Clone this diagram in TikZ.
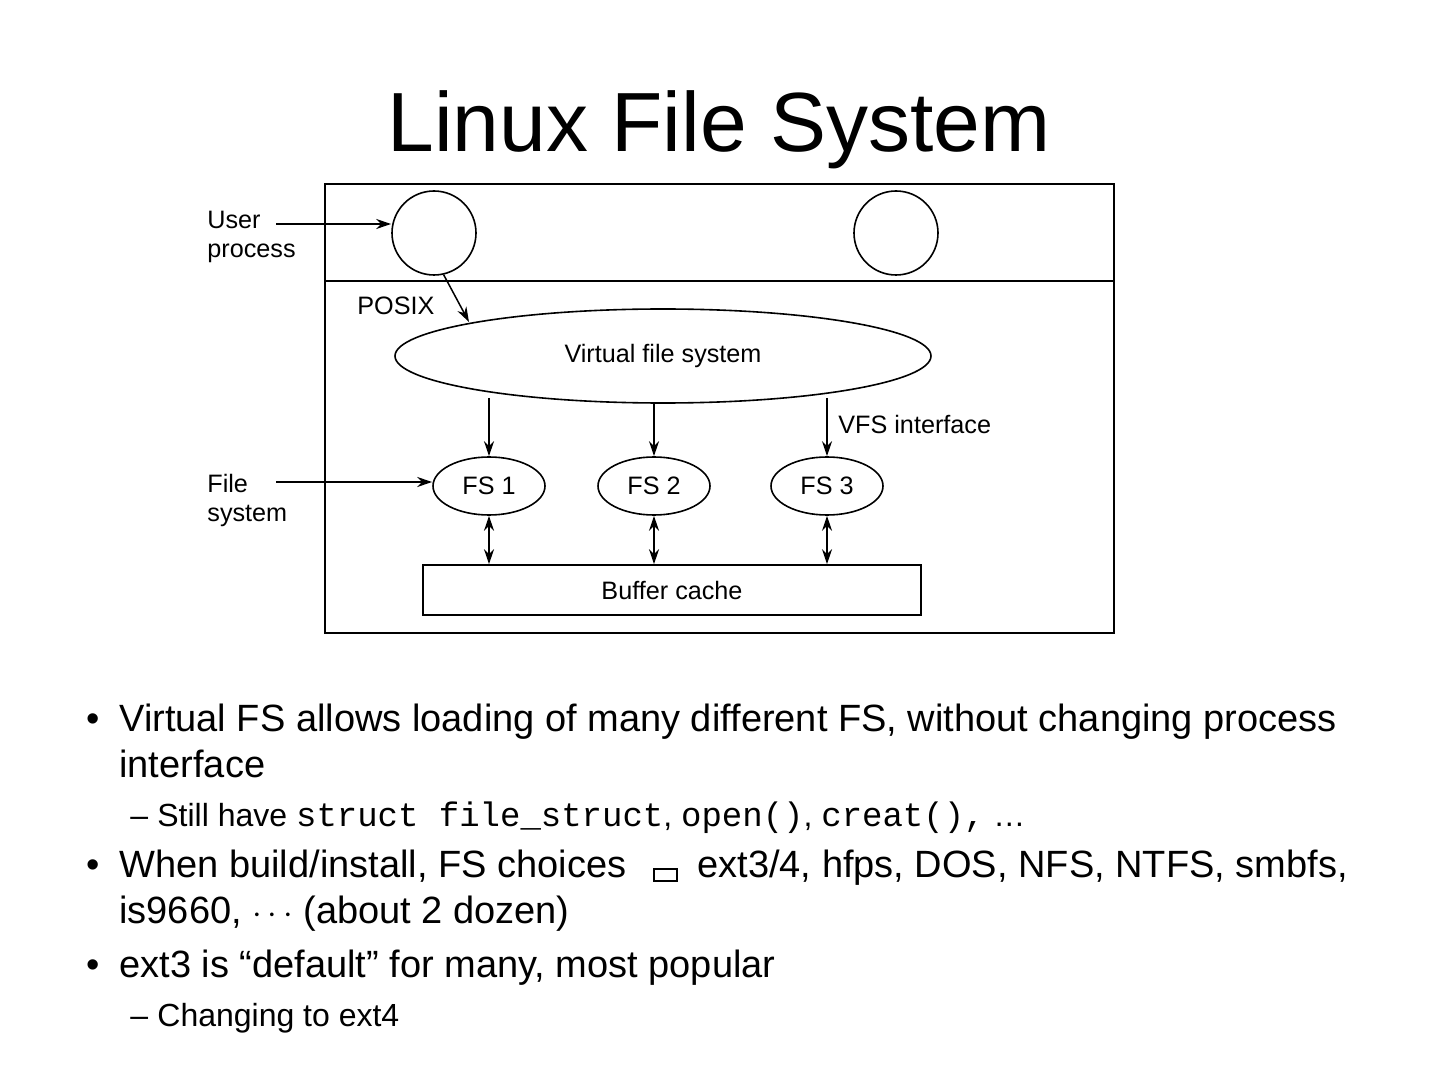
\documentclass[tikz,border=0pt]{standalone}
\usepackage{fontspec}
\setmainfont{Liberation Sans}
\setmonofont{Liberation Mono}
\usetikzlibrary{arrows.meta,shapes.geometric}
\begin{document}
\begin{tikzpicture}[x=0.5pt,y=-0.5pt,
  lbl/.style={font=\fontsize{12.6}{14}\selectfont, inner sep=0pt},
  arr/.style={line width=0.75pt,-{Stealth[length=7.5pt,width=5pt]}},
  darr/.style={line width=0.75pt,{Stealth[length=7.5pt,width=5pt]}-{Stealth[length=7.5pt,width=5pt]}},
  proc/.style={circle,draw,line width=0.8pt,minimum size=42pt,inner sep=0pt},
  fs/.style={ellipse,draw,line width=0.8pt,minimum width=56pt,minimum height=29pt,inner sep=0pt,font=\fontsize{12.6}{14}\selectfont},
  btxt/.style={anchor=base west,inner sep=0pt,font=\fontsize{19}{22}\selectfont},
  stxt/.style={anchor=base west,inner sep=0pt,font=\fontsize{16}{19}\selectfont}
]
\useasboundingbox (0,0) rectangle (1440,1080);
\fill[white] (0,0) rectangle (1440,1080);

% title
\node[anchor=base,inner sep=0pt,font=\fontsize{42}{48}\selectfont] (title) at (719,152) {Linux File System};

% outer frame
\draw[line width=1pt] (325,184) rectangle (1114,633);
\draw[line width=1pt] (325,281) -- (1114,281);

% processes
\node[proc] (p1) at (434,233) {};
\node[proc] (p2) at (896,233) {};

% labels left
\node[lbl,anchor=base west] (user) at (207,229) {User};
\node[lbl,anchor=base west] (process) at (207,258) {process};
\coordinate (ua) at (276,224);
\draw[arr] (ua) -- (p1.west |- ua);

\node[lbl,anchor=base west] (posix) at (357,315) {POSIX};

% VFS
\node[ellipse,draw,line width=0.8pt,minimum width=268pt,minimum height=47pt,inner sep=0pt,font=\fontsize{12.6}{14}\selectfont] (vfs) at (663,356) {Virtual file system};
\coordinate (vfstop) at (469,322);
\draw[arr] (p1.-77) -- (vfstop);

% FS nodes
\node[fs] (fs1) at (489,486) {FS 1};
\node[fs] (fs2) at (654,486) {FS 2};
\node[fs] (fs3) at (827,486) {FS 3};

\coordinate (v1) at (489,398);
\coordinate (v2) at (654,404);
\coordinate (v3) at (827,398);
\draw[arr] (v1) -- (fs1.north);
\draw[arr] (v2) -- (fs2.north);
\draw[arr] (v3) -- (fs3.north);
\node[lbl,anchor=base west] (vfsi) at (838,434) {VFS interface};

\node[lbl,anchor=base west] (file) at (207,492) {File};
\node[lbl,anchor=base west] (system) at (207,521) {system};
\coordinate (fa) at (276,482);
\draw[arr] (fa) -- (fs1.west |- fa);

% buffer cache
\node[draw,line width=0.8pt,minimum width=249pt,minimum height=25pt,inner sep=0pt,font=\fontsize{12.6}{14}\selectfont] (bc) at (672,590) {Buffer cache};
\draw[darr] (fs1.south) -- (fs1.south |- bc.north);
\draw[darr] (fs2.south) -- (fs2.south |- bc.north);
\draw[darr] (fs3.south) -- (fs3.south |- bc.north);

% bullets
\node[btxt] (b1m) at (86,731) {•};
\node[btxt] (b1) at (119,731) {Virtual FS allows loading of many different FS, without changing process};
\node[btxt] (b1b) at (119,777) {interface};
\node[stxt] (s1m) at (130,826) {–};
\node[stxt] (s1) at (157,826) {Still have {\fontsize{17}{19}\selectfont\texttt{struct file\_struct}}, {\fontsize{17}{19}\selectfont\texttt{open()}}, {\fontsize{17}{19}\selectfont\texttt{creat(),}} …};
\node[btxt] (b2m) at (86,877) {•};
\node[btxt] (b2) at (119,877) {When build/install, FS choices};
\draw[line width=1.2pt] (654,869) rectangle (677,881);
\node[btxt] (b2c) at (697,877) {ext3/4, hfps, DOS, NFS, NTFS, smbfs,};
\node[btxt] (b2b) at (119,923) {is9660, $\cdots$ (about 2 dozen)};
\node[btxt] (b3m) at (86,977) {•};
\node[btxt] (b3) at (119,977) {ext3 is “default” for many, most popular};
\node[stxt] (s2m) at (130,1026) {–};
\node[stxt] (s2) at (157,1026) {Changing to ext4};
\end{tikzpicture}
\end{document}
